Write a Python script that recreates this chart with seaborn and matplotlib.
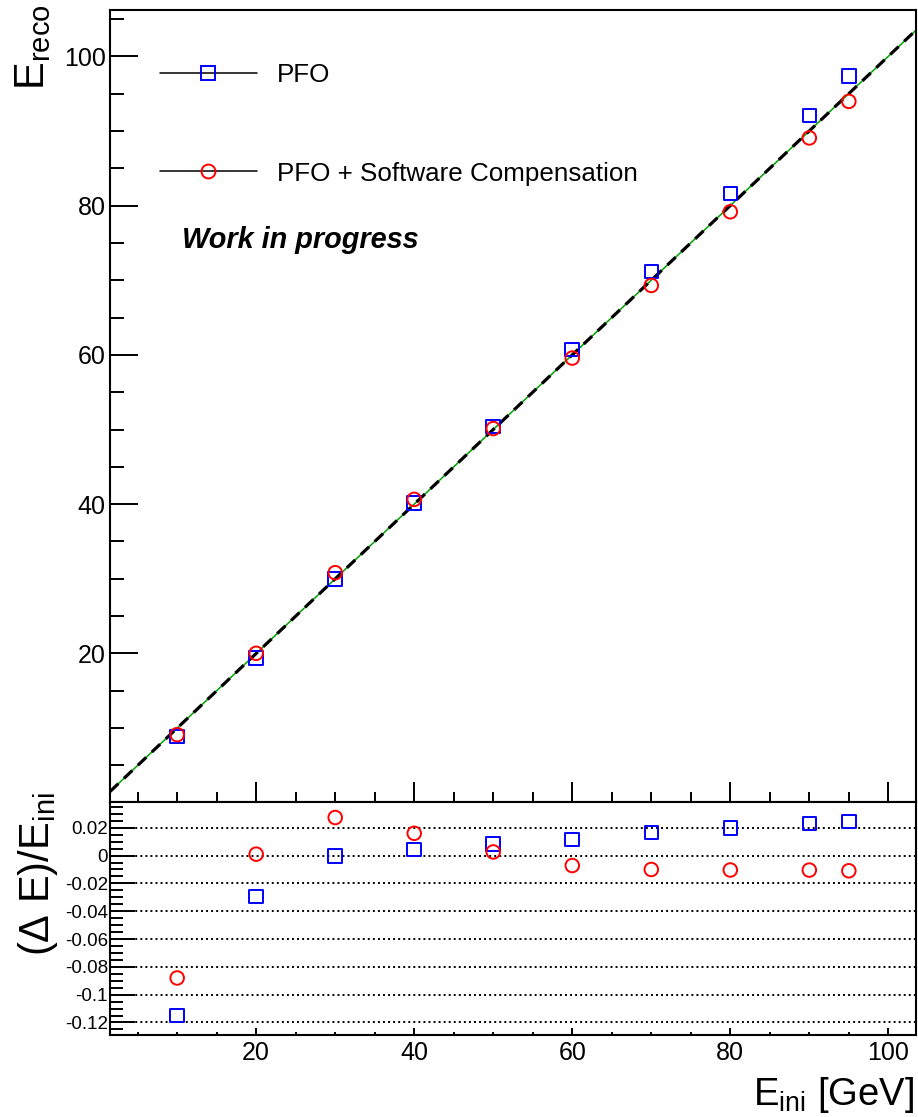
import matplotlib
matplotlib.use("Agg")
import matplotlib.pyplot as plt
from matplotlib.lines import Line2D
from matplotlib.ticker import MultipleLocator, FuncFormatter
import pandas as pd
import seaborn as sns

# Beam energy scan: initial energy and reconstructed energy for both methods
e_ini = [10, 20, 30, 40, 50, 60, 70, 80, 90, 95]
e_reco_pfo = [8.85, 19.41, 29.99, 40.18, 50.42, 60.70, 71.15, 81.60, 92.08, 97.34]
e_reco_sc = [9.12, 20.02, 30.82, 40.64, 50.13, 59.57, 69.30, 79.17, 89.06, 93.96]

series_labels = ["PFO", "PFO + Software Compensation"]
series_colors = ["#0000ff", "#ff0000"]
series_markers = ["s", "o"]

x_range = (1.5, 103.5)
y_range_top = (0.1, 106.2)
y_range_bot = (-0.129, 0.0385)

sns.set_style("ticks")
plt.rcParams["font.family"] = ["Liberation Sans", "DejaVu Sans"]
plt.rcParams["mathtext.fontset"] = "custom"
plt.rcParams["mathtext.rm"] = "Liberation Sans"
plt.rcParams["mathtext.it"] = "Liberation Sans:italic"
plt.rcParams["mathtext.bf"] = "Liberation Sans:bold"
plt.rcParams["axes.linewidth"] = 1.5
plt.rcParams["text.color"] = "black"
plt.rcParams["xtick.color"] = "black"
plt.rcParams["ytick.color"] = "black"
plt.rcParams["xtick.labelcolor"] = "black"
plt.rcParams["ytick.labelcolor"] = "black"

df = pd.DataFrame({
    "E_ini": e_ini * 2,
    "E_reco": e_reco_pfo + e_reco_sc,
    "method": [series_labels[0]] * len(e_ini) + [series_labels[1]] * len(e_ini),
})
df["resid"] = (df["E_reco"] - df["E_ini"]) / df["E_ini"]

W, H = 918, 1117
fig = plt.figure(figsize=(W / 100, H / 100), dpi=100)


def box(l, t, r, b):
    return [l / W, 1 - b / H, (r - l) / W, (b - t) / H]


ax_top = fig.add_axes(box(110, 10, 916, 802))
ax_bot = fig.add_axes(box(110, 802, 916, 1035))

# identity reference: thin green line under a thick black dashed one
ax_top.axline((0, 0), slope=1, color="#00a000", lw=1.1, zorder=1)
ax_top.axline((0, 0), slope=1, color="black", lw=2.3, dashes=(3.6, 2.4), zorder=2)

for label, color, marker in zip(series_labels, series_colors, series_markers):
    sub = df[df["method"] == label]
    sns.scatterplot(data=sub, x="E_ini", y="E_reco", ax=ax_top, marker=marker,
                    s=95, facecolors="none", edgecolor=color, linewidth=1.4,
                    legend=False, zorder=3)
    sns.scatterplot(data=sub, x="E_ini", y="resid", ax=ax_bot, marker=marker,
                    s=95, facecolors="none", edgecolor=color, linewidth=1.4,
                    legend=False, zorder=3)

for ax in (ax_top, ax_bot):
    ax.set_xlim(*x_range)
    ax.set_xlabel("")
    ax.set_ylabel("")
    ax.xaxis.set_major_locator(MultipleLocator(20))
    ax.xaxis.set_minor_locator(MultipleLocator(5))
    for s in ax.spines.values():
        s.set_visible(True)
        s.set_linewidth(1.5)
        s.set_color("black")

ax_top.set_ylim(*y_range_top)
ax_top.yaxis.set_major_locator(MultipleLocator(20))
ax_top.yaxis.set_minor_locator(MultipleLocator(5))
ax_top.tick_params(axis="x", which="both", direction="in", labelbottom=False,
                   top=False, width=1.4)
ax_top.tick_params(axis="x", which="major", length=14.4)
ax_top.tick_params(axis="x", which="minor", length=7.2)
ax_top.tick_params(axis="y", which="both", direction="in", right=False, width=1.4,
                   labelsize=18, pad=3)
ax_top.tick_params(axis="y", which="major", length=20)
ax_top.tick_params(axis="y", which="minor", length=10)

ax_bot.set_ylim(*y_range_bot)
ax_bot.yaxis.set_major_locator(MultipleLocator(0.02))
ax_bot.yaxis.set_minor_locator(MultipleLocator(0.005))
ax_bot.yaxis.set_major_formatter(
    FuncFormatter(lambda v, p: "0" if abs(v) < 1e-9 else "{:g}".format(round(v, 3))))
ax_bot.tick_params(axis="x", which="both", direction="in", top=False, width=1.4,
                   labelsize=18, pad=4)
ax_bot.tick_params(axis="x", which="major", length=5)
ax_bot.tick_params(axis="x", which="minor", length=2.5)
ax_bot.tick_params(axis="y", which="both", direction="in", right=False, width=1.4,
                   labelsize=13.5, pad=1.5)
ax_bot.tick_params(axis="y", which="major", length=18)
ax_bot.tick_params(axis="y", which="minor", length=9.4)
ax_bot.set_axisbelow(True)
ax_bot.yaxis.grid(True, which="major", color="black", linestyle=(0, (1, 1.6)),
                  linewidth=1.4)
ax_bot.xaxis.grid(False)

# legend with black line through an open marker
handles = [Line2D([], [], color="black", lw=1.1, marker=m, markersize=10,
                  markerfacecolor="none", markeredgecolor=c, markeredgewidth=1.4)
           for c, m in zip(series_colors, series_markers)]
ax_top.legend(handles, series_labels, loc="upper left",
              bbox_to_anchor=((160 - 110) / 806, 1 - (63 - 10) / 792),
              frameon=False, fontsize=18.7, handlelength=3.73, handletextpad=0.77,
              labelspacing=2.87, borderpad=0, borderaxespad=0)

fig.text(182 / W, 1 - 248 / H, "Work in progress", fontsize=20.8,
         fontweight="bold", fontstyle="italic", ha="left", va="baseline")

fig.text(33 / W, 1 - 4 / H, r"$\mathrm{E}_{\mathrm{reco}}$", rotation=90,
         fontsize=30, ha="center", va="top")
fig.text(38 / W, 1 - 792 / H, r"$(\Delta\ \mathrm{E})/\mathrm{E}_{\mathrm{ini}}$",
         rotation=90, fontsize=30, ha="center", va="top")
fig.text(914 / W, 1 - 1105 / H, r"$\mathrm{E}_{\mathrm{ini}}$ [GeV]",
         fontsize=27.5, ha="right", va="baseline")

fig.savefig("out.png", dpi=100)
